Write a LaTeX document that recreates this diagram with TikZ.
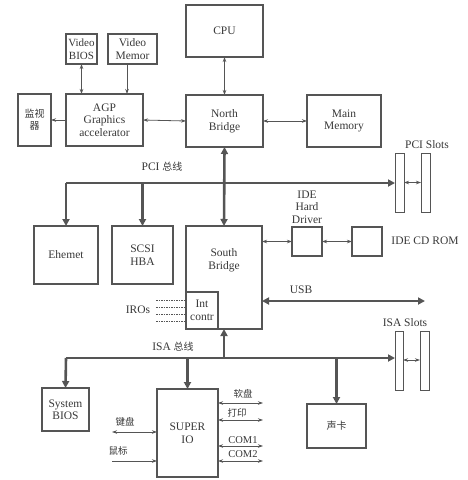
\documentclass[tikz,border=0pt]{standalone}
\usepackage{fontspec}
\setmainfont{Liberation Serif}
\newfontfamily\cjk{Noto Sans CJK SC}
\usetikzlibrary{arrows.meta,calc}
\definecolor{ln}{HTML}{555555}
\definecolor{tx}{HTML}{383838}
\begin{document}
\begin{tikzpicture}[x=1pt,y=-1pt,
  box/.style={draw=ln,line width=1.2pt,inner sep=0pt,outer sep=0pt,anchor=north west,
    align=center,text=tx,font=\fontsize{11.5}{12.5}\selectfont},
  slot/.style={draw=ln,line width=1pt,inner sep=0pt,outer sep=0pt,anchor=north west},
  lbl/.style={text=tx,inner sep=0pt,align=center,font=\fontsize{11.5}{12.5}\selectfont},
  clbl/.style={text=tx,inner sep=0pt,font=\cjk\fontsize{9.5}{11}\selectfont},
  tarr/.style={draw=ln,line width=0.8pt,{Stealth[length=5pt,width=3.5pt]}-{Stealth[length=5pt,width=3.5pt]}},
  tone/.style={draw=ln,line width=0.8pt,-{Stealth[length=5pt,width=3.5pt]}},
  bus/.style={draw=ln,line width=2.6pt,-{Triangle[length=7pt,width=7pt]}},
  busd/.style={draw=ln,line width=2.6pt,{Triangle[length=7pt,width=7pt]}-{Triangle[length=7pt,width=7pt]}},
  dsh/.style={draw=ln,line width=0.6pt,dash pattern=on 1.5pt off 1pt}]
\useasboundingbox (0,0) rectangle (468,480);
% boxes
\node[box,minimum width=31pt,minimum height=30pt,font=\fontsize{11}{12.5}\selectfont] (vbios) at (66,34) {Video\\BIOS};
\node[box,minimum width=49pt,minimum height=30pt] (vmem) at (108,34) {Video\\Memor};
\node[box,minimum width=33pt,minimum height=52pt,font=\cjk\fontsize{10}{12}\selectfont] (mon) at (18,94) {监视\\器};
\node[box,minimum width=77pt,minimum height=52pt] (agp) at (66,94) {AGP\\Graphics\\accelerator};
\node[box,minimum width=77pt,minimum height=52pt] (cpu) at (186,5) {CPU};
\node[box,minimum width=77pt,minimum height=52pt] (nb) at (186,95) {North\\Bridge};
\node[box,minimum width=74pt,minimum height=52pt] (mm) at (307,95) {Main\\Memory};
\node[box,minimum width=64pt,minimum height=58pt] (eth) at (34,226) {Ehemet};
\node[box,minimum width=61pt,minimum height=58pt] (scsi) at (112,226) {SCSI\\HBA};
\node[box,minimum width=76pt,minimum height=103pt] (sb) at (186,226) {};
\node[lbl] (sbt) at (224,260) {South\\Bridge};
\node[box,minimum width=32pt,minimum height=37pt] (intc) at (186,292) {Int\\contr};
\node[box,minimum width=30pt,minimum height=29pt] (ide) at (292,227) {};
\node[box,minimum width=30pt,minimum height=29pt] (cd) at (352,227) {};
\node[slot,minimum width=9pt,minimum height=59pt] (pci1) at (395,153) {};
\node[slot,minimum width=9pt,minimum height=59pt] (pci2) at (421,153) {};
\node[slot,minimum width=8pt,minimum height=59pt] (isa1) at (395,331) {};
\node[slot,minimum width=9pt,minimum height=59pt] (isa2) at (420,331) {};
\node[box,minimum width=47pt,minimum height=43pt] (sbios) at (42,388) {System\\BIOS};
\node[box,minimum width=61pt,minimum height=88pt] (sio) at (157,389) {SUPER\\IO};
\node[box,minimum width=59pt,minimum height=44pt,font=\cjk\fontsize{10}{12}\selectfont] (snd) at (307,404) {声卡};
% labels
\node[lbl] (pcilbl) at (162,167) {PCI {\cjk\fontsize{10}{11}\selectfont 总线}};
\node[lbl] (pcislbl) at (427,145) {PCI Slots};
\node[lbl] (idelbl) at (307,207) {IDE\\Hard\\Driver};
\node[lbl] (cdlbl) at (425,241) {IDE CD ROM};
\node[lbl] (irolbl) at (138,310) {IROs};
\node[lbl] (usblbl) at (301,290) {USB};
\node[lbl] (isaslbl) at (405,323) {ISA Slots};
\node[lbl] (isalbl) at (173,347) {ISA {\cjk\fontsize{10}{11}\selectfont 总线}};
\node[clbl] (kbl) at (125,422) {键盘};
\node[clbl] (msl) at (118,451) {鼠标};
\node[clbl] (fdl) at (243,394) {软盘};
\node[clbl] (prl) at (237,413) {打印};
\node[lbl,font=\fontsize{10.5}{11}\selectfont] (c1l) at (243,440) {COM1};
\node[lbl,font=\fontsize{10.5}{11}\selectfont] (c2l) at (243,454) {COM2};
% coordinates
\coordinate (pcil) at (66,183);
\coordinate (isal) at (66,358);
\coordinate (usbe) at (425,301);
\coordinate (iroe) at (156,0);
\coordinate (kbe) at (112,432);
\coordinate (mse) at (112,461);
\coordinate (re) at (263,0);
% top thin connectors
\draw[tarr] (vbios.south) -- (vbios.south |- agp.north);
\draw[tone] ([xshift=19pt]vmem.south west) -- ([xshift=19pt]vmem.south west |- agp.north);
\draw[tone] (agp.west) -- (mon.east);
\draw[tarr] (agp.east) -- (nb.west);
\draw[tarr] (cpu.south) -- (nb.north);
\draw[tarr] (nb.east) -- (mm.west);
% PCI bus
\draw[bus] (pcil) -- (pcil -| pci1.west);
\draw[bus] (pcil) -- (eth.north);
\draw[bus] (scsi.north |- pcil) -- (scsi.north);
\draw[busd] (nb.south) -- (sb.north);
\draw[tarr] (pci1.east) -- (pci2.west);
% IDE
\draw[tarr] (ide.west -| sb.east) -- (ide.west);
\draw[tarr] (ide.east) -- (cd.west);
% USB
\draw[busd] (usbe -| sb.east) -- (usbe);
% IROs
\foreach \yy in {300,307,314,321} \draw[dsh] (iroe |- 0,\yy) -- (intc.west |- 0,\yy);
% ISA bus
\draw[bus] (isal) -- (isal -| isa1.west);
\draw[bus] (isal) -- (sbios.north);
\draw[bus] (sio.north |- isal) -- (sio.north);
\draw[bus] (snd.north |- isal) -- (snd.north);
\draw[bus] (sb.south |- isal) -- (sb.south);
\draw[tarr] (isa1.east |- 0,360) -- (isa2.west |- 0,360);
% SUPER IO side arrows
\draw[tarr] (kbe) -- (kbe -| sio.west);
\draw[tone] (mse) -- (mse -| sio.west);
\foreach \yy in {403,420,446,461} \draw[tarr] (sio.east |- 0,\yy) -- (re |- 0,\yy);
\end{tikzpicture}
\end{document}
